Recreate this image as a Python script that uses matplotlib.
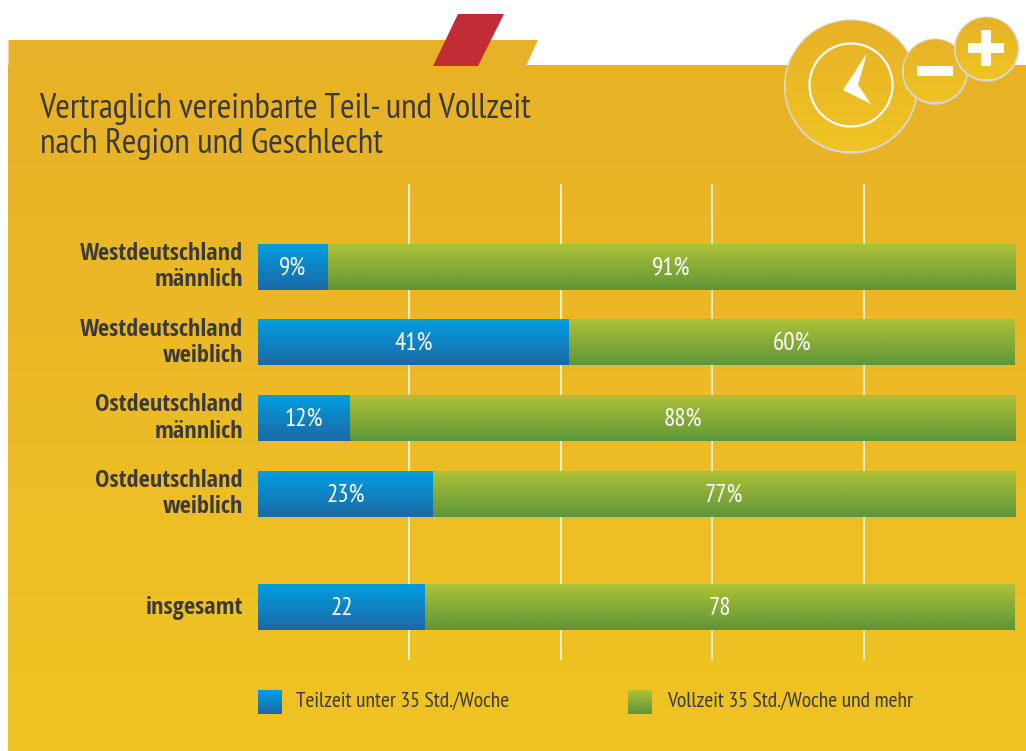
import numpy as np
import matplotlib
matplotlib.use("Agg")
import matplotlib.pyplot as plt
from matplotlib.colors import LinearSegmentedColormap
from matplotlib.patches import Circle, Polygon

plt.rcParams['font.family'] = ['PT Sans Narrow', 'Roboto', 'DejaVu Sans']

# daten
categories = ["Westdeutschland\nmännlich", "Westdeutschland\nweiblich",
              "Ostdeutschland\nmännlich", "Ostdeutschland\nweiblich", "insgesamt"]
positions = [0, 1, 2, 3, 4.5]
teilzeit = [9.2, 41.1, 12.1, 23.1, 22.1]
vollzeit = [90.8, 58.9, 87.9, 76.9, 77.9]
teilzeit_labels = ["9%", "41%", "12%", "23%", "22"]
vollzeit_labels = ["91%", "60%", "88%", "77%", "78"]
grid_ticks = [20, 40, 60, 80]
legend_labels = ["Teilzeit unter 35 Std./Woche", "Vollzeit 35 Std./Woche und mehr"]

W, H = 1026, 751
dark = "#3c3a36"
blue = LinearSegmentedColormap.from_list("blue", ["#009fe0", "#1d68a6"])
green = LinearSegmentedColormap.from_list("green", ["#aec238", "#5f9538"])
gold = LinearSegmentedColormap.from_list("gold", ["#e8b228", "#efc423"])
verlauf = np.linspace(0, 1, 256).reshape(-1, 1)

fig = plt.figure(figsize=(W / 100, H / 100), dpi=100, facecolor="white")

# hintergrund in pixel koordinaten
bg = fig.add_axes([0, 0, 1, 1], zorder=0)
bg.set_xlim(0, W)
bg.set_ylim(H, 0)
bg.axis("off")

bg.add_patch(Polygon([(8.5, 40), (538, 40), (526, 66), (8.5, 66)], color="#e8b228", lw=0))
bg.imshow(verlauf, cmap=gold, extent=(7.5, W, H, 65), aspect="auto", zorder=1)
bg.add_patch(Polygon([(458, 14), (504, 14), (478, 66), (433, 66)], color="#c32b35", lw=0, zorder=2))


def rund(cx, cy, r, z):
    # grauer rand + gold verlauf
    bg.add_patch(Circle((cx, cy + 0.6), r + 1.6, color="#d6d6d2", lw=0, zorder=z))
    c = Circle((cx, cy), r, color="none", lw=0, zorder=z)
    bg.add_patch(c)
    im = bg.imshow(verlauf, cmap=gold, extent=(cx - r, cx + r, cy + r, cy - r), aspect="auto", zorder=z + 0.1)
    im.set_clip_path(c)


rund(851, 86, 65.5, 3)
bg.add_patch(Circle((851, 85), 41.5, fc="none", ec="white", lw=1.6, zorder=3.5))
bg.add_patch(Polygon([(867, 53), (843, 90), (871, 104), (858, 85)], color="white", lw=0, zorder=3.5))

rund(935, 71, 31.5, 4)
bg.add_patch(Polygon([(917, 66), (953, 66), (953, 76), (917, 76)], color="white", lw=0, zorder=4.5))

rund(986.5, 48.5, 31, 5)
bg.add_patch(Polygon([(968, 43), (1004, 43), (1004, 53), (968, 53)], color="white", lw=0, zorder=5.5))
bg.add_patch(Polygon([(981, 30), (991, 30), (991, 66), (981, 66)], color="white", lw=0, zorder=5.5))

bg.text(39.5, 109, "Vertraglich vereinbarte Teil- und Vollzeit", fontsize=25.4, color=dark, va="center", zorder=6)
bg.text(39.5, 144, "nach Region und Geschlecht", fontsize=25.4, color=dark, va="center", zorder=6)

# legende
for x0, xt, cm, lab in zip([258, 628], [296, 667], [blue, green], legend_labels):
    bg.imshow(verlauf, cmap=cm, extent=(x0, x0 + 24, 714, 690), aspect="auto", zorder=6)
    bg.text(xt, 701, lab, fontsize=15.6, color=dark, va="center", zorder=6)
bg.set_xlim(0, W)
bg.set_ylim(H, 0)

# diagramm
ax = fig.add_axes([258 / W, 1 - 660 / H, (1015 - 258) / W, (660 - 184) / H], zorder=1)
ax.patch.set_alpha(0)
for s in ax.spines.values():
    s.set_visible(False)

blaue = ax.barh(positions, teilzeit, height=0.6, color="none")
gruene = ax.barh(positions, vollzeit, left=teilzeit, height=0.6, color="none")
for bars, cm in ((blaue, blue), (gruene, green)):
    for b in bars:
        x0, y0, x1, y1 = b.get_bbox().extents
        ax.imshow(verlauf, cmap=cm, extent=(x0, x1, y1, y0), aspect="auto", zorder=3)

for y, a, b, la, lb in zip(positions, teilzeit, vollzeit, teilzeit_labels, vollzeit_labels):
    ax.text(a / 2, y + 0.01, la, color="white", fontsize=18, ha="center", va="center", zorder=4)
    ax.text(a + b / 2, y + 0.01, lb, color="white", fontsize=18, ha="center", va="center", zorder=4)

ax.set_xlim(0, 100)
ax.set_ylim(5.19, -1.097)
ax.set_xticks(grid_ticks)
ax.set_xticklabels([])
ax.grid(axis="x", color="#fdf6df", lw=1.3, zorder=1)
ax.set_axisbelow(True)
ax.tick_params(axis="both", length=0)
ax.set_yticks(positions)
ax.set_yticklabels(categories, fontsize=17.6, fontweight="bold", color=dark, ma="right", linespacing=1.12,
                   family=['Open Sans Condensed', 'Roboto', 'DejaVu Sans'])
for t in ax.get_yticklabels():
    t.set_va("center")
ax.tick_params(axis="y", pad=10.8)

fig.savefig("out.png", dpi=100)
